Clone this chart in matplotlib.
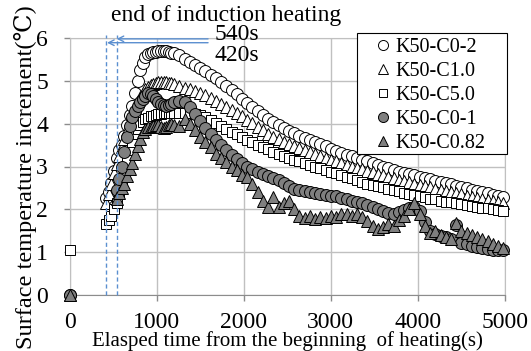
import numpy as np
import matplotlib.pyplot as plt
from matplotlib.patches import Rectangle

plt.rcParams['font.family'] = ['Liberation Serif', 'DejaVu Serif']

nan = np.nan

# sampling times (s): start point, fast sampling through the peak, then every 60 s
time_rise = [420, 450, 480, 510, 540, 570, 600, 630, 660, 690, 720, 750, 780, 810,
             840, 870, 900, 930, 960, 990, 1020, 1050, 1080, 1110, 1140, 1170, 1200]
time_fall = [1260, 1320, 1380, 1440, 1500, 1560, 1620, 1680, 1740, 1800,
             1860, 1920, 1980, 2040, 2100, 2160, 2220, 2280, 2340, 2400,
             2460, 2520, 2580, 2640, 2700, 2760, 2820, 2880, 2940, 3000,
             3060, 3120, 3180, 3240, 3300, 3360, 3420, 3480, 3540, 3600,
             3660, 3720, 3780, 3840, 3900, 3960, 4020, 4080, 4140, 4200,
             4260, 4320, 4380, 4440, 4500, 4560, 4620, 4680, 4740, 4800,
             4860, 4920, 4980]
time_s = [0] + time_rise + time_fall

k50_c0_2 = [0,
            2.27, 2.4, 2.62, 2.9, 3.2, 3.38, 3.5, 3.72, 3.97, 4.2,
            4.42, 4.72, 5.0, 5.25, 5.42, 5.55, 5.62, 5.65, 5.67, 5.68,
            5.7, 5.7, 5.7, 5.69, 5.68, 5.66, 5.64,
            5.6, 5.52, 5.45, 5.37, 5.3, 5.22, 5.14, 5.06, 4.97, 4.88,
            4.79, 4.69, 4.58, 4.48, 4.39, 4.3, 4.21, 4.12, 4.04, 3.97,
            3.9, 3.84, 3.78, 3.72, 3.67, 3.62, 3.57, 3.52, 3.47, 3.42,
            3.37, 3.32, 3.28, 3.24, 3.2, 3.16, 3.12, 3.08, 3.04, 3.0,
            2.96, 2.92, 2.88, 2.85, 2.82, 2.79, 2.76, 2.73, 2.7, 2.67,
            2.64, 2.61, 2.58, 2.55, 2.52, 2.49, 2.46, 2.43, 2.4, 2.37,
            2.34, 2.31, 2.28]

k50_c1_0 = [0,
            2.15, 2.35, 2.6, 2.85, 3.05, 3.25, 3.45, 3.65, 3.85, 4.05,
            4.22, 4.38, 4.52, 4.63, 4.72, 4.8, 4.86, 4.9, 4.93, 4.95,
            4.97, 4.98, 4.98, 4.97, 4.96, 4.94, 4.92,
            4.88, 4.84, 4.8, 4.76, 4.72, 4.66, 4.6, 4.54, 4.47, 4.4,
            4.33, 4.25, 4.17, 4.09, 4.01, 3.93, 3.85, 3.77, 3.7, 3.64,
            3.58, 3.53, 3.48, 3.43, 3.38, 3.33, 3.29, 3.25, 3.2, 3.16,
            3.12, 3.08, 3.04, 3.0, 2.96, 2.93, 2.89, 2.86, 2.82, 2.79,
            2.76, 2.72, 2.69, 2.66, 2.63, 2.6, 2.57, 2.54, 2.51, 2.48,
            2.45, 2.42, 2.4, 2.37, 2.35, 2.32, 2.29, 2.27, 2.24, 2.22,
            2.19, 2.17, 2.15]

k50_c5_0 = [1.05,
            1.65, 1.75, 1.85, 2.0, 2.15, 2.4, 2.65, 2.9, 3.15, 3.38,
            3.58, 3.75, 3.88, 3.98, 4.05, 4.1, 4.14, 4.17, 4.19, 4.21,
            4.22, 4.23, 4.24, 4.25, 4.25, 4.25, 4.25,
            4.25, 4.25, 4.24, 4.22, 4.2, 4.15, 4.08, 4.01, 3.94, 3.87,
            3.81, 3.75, 3.69, 3.63, 3.57, 3.51, 3.45, 3.4, 3.35, 3.3,
            3.25, 3.2, 3.16, 3.12, 3.08, 3.04, 3.0, 2.96, 2.92, 2.88,
            2.84, 2.8, 2.76, 2.72, 2.68, 2.64, 2.6, 2.57, 2.54, 2.51,
            2.48, 2.45, 2.42, 2.39, 2.36, 2.33, 2.3, 2.28, 2.25, 2.23,
            2.2, 2.18, 2.16, 2.14, 2.12, 2.1, 2.08, 2.06, 2.04, 2.02,
            2.0, 1.98, 1.95]

k50_c0_1 = [0,
            nan, nan, nan, nan, 2.45, 2.7, 3.0, 3.35, 3.7, 3.95,
            4.15, 4.3, 4.42, 4.5, 4.58, 4.65, 4.72, 4.7, 4.64, 4.57,
            4.5, 4.46, 4.43, 4.42, 4.44, 4.47, 4.5,
            4.52, 4.5, 4.38, 4.22, 4.06, 3.9, 3.76, 3.62, 3.5, 3.38,
            3.28, 3.18, 3.08, 3.0, 2.94, 2.88, 2.83, 2.78, 2.72, 2.69,
            2.62, 2.55, 2.48, 2.46, 2.42, 2.4, 2.38, 2.36, 2.34, 2.32,
            2.3, 2.27, 2.24, 2.2, 2.18, 2.15, 2.1, 2.05, 2.0, 1.96,
            1.92, 1.9, 1.94, 1.98, 2.02, 2.05, 1.95, 1.7, 1.5, 1.42,
            1.38, 1.35, 1.3, 1.64, 1.22, 1.18, 1.15, 1.12, 1.1, 1.08,
            1.06, 1.05, 1.05]

k50_c0_82 = [0,
             nan, nan, nan, nan, 2.25, 2.38, 2.5, 2.6, 2.78, 2.95,
             3.08, 3.3, 3.48, 3.65, 3.8, 3.88, 3.92, 3.93, 3.95, 3.97,
             3.96, 3.93, 3.9, 3.92, 3.96, 4.0, 3.98,
             3.95, 4.1, 4.0, 3.85, 3.7, 3.58, 3.45, 3.3, 3.2, 3.1,
             3.0, 2.92, 2.8, 2.76, 2.6, 2.4, 2.2, 2.05, 2.28, 2.05,
             2.15, 2.2, 2.0, 1.85, 1.8, 1.85, 1.78, 1.82, 1.8, 1.85,
             1.83, 1.9, 1.88, 1.85, 1.9, 1.82, 1.72, 1.62, 1.55, 1.58,
             1.65, 1.6, 1.75, 1.85, 2.0, 2.15, 1.9, 1.6, 1.45, 1.5,
             1.4, 1.35, 1.3, 1.68, 1.5, 1.45, 1.4, 1.35, 1.3, 1.25,
             1.2, 1.15, 1.1]

labels = ['K50-C0-2', 'K50-C1.0', 'K50-C5.0', 'K50-C0-1', 'K50-C0.82']
series = [k50_c0_2, k50_c1_0, k50_c5_0, k50_c0_1, k50_c0_82]
markers = ['o', '^', 's', 'o', '^']
fills = ['white', 'white', 'white', '#7f7f7f', '#7f7f7f']
sizes = [8.6, 8.8, 7.6, 8.6, 8.8]

heat_end = [420, 540]

fig = plt.figure(figsize=(5.31, 3.51), dpi=100)
ax = fig.add_axes([69.6 / 531, 56 / 351, (505 - 69.6) / 531, 257 / 351])

handles = []
for y, m, fc, ms, lab in zip(series, markers, fills, sizes, labels):
    h, = ax.plot(time_s, np.array(y, dtype=float), linestyle='none', marker=m,
                 ms=ms, mfc=fc, mec='black', mew=0.7, label=lab, clip_on=False, zorder=3)
    handles.append(h)

# end of induction heating markers
blue = '#5b8fd0'
for t in heat_end:
    ax.plot([t, t], [0, 6.07], color=blue, lw=1, ls=(0, (3, 2)), clip_on=False, zorder=4)
ax.annotate('', xy=(540, 5.98), xytext=(1590, 5.98), annotation_clip=False,
            arrowprops=dict(arrowstyle='->', color=blue, lw=1, shrinkA=0, shrinkB=0))
ax.annotate('', xy=(430, 5.89), xytext=(1590, 5.89), annotation_clip=False,
            arrowprops=dict(arrowstyle='->', color=blue, lw=1, shrinkA=0, shrinkB=0))

ax.set_xlim(0, 5000)
ax.set_ylim(0, 6)
ax.set_xticks([0, 1000, 2000, 3000, 4000, 5000])
ax.set_yticks([0, 1, 2, 3, 4, 5, 6])
ax.grid(color='#c0c0c0', lw=1)
ax.set_axisbelow(True)
for side in ['top', 'right', 'left']:
    ax.spines[side].set_color('#c0c0c0')
ax.spines['bottom'].set_color('#8c8c8c')
ax.tick_params(axis='both', labelsize=17, length=4, width=1, color='#8c8c8c')
ax.tick_params(axis='x', pad=8)
ax.tick_params(axis='y', pad=11.5)

fig.text(226 / 531, 1 - 15.5 / 351, 'end of induction heating', fontsize=17,
         ha='center', va='center')
fig.text(237 / 531, 1 - 35 / 351, '540s', fontsize=17, ha='center', va='center')
fig.text(237 / 531, 1 - 55.5 / 351, '420s', fontsize=17, ha='center', va='center')

fig.text(287 / 531, 5 / 351, 'Elasped time from the beginning  of heating(s)',
         fontsize=15, ha='center', va='baseline')
fig.text(25.5 / 531, 1 - 177 / 351, 'Surface temperature increment(℃)',
         fontsize=17.5, rotation=90, ha='center', va='center')

# legend box drawn by hand so it can be wider than its entries
box = Rectangle((357 / 531, 1 - 154 / 351), 150 / 531, 121 / 351,
                transform=fig.transFigure, facecolor='white',
                edgecolor='black', lw=0.8, zorder=5, clip_on=False)
ax.add_patch(box)
leg = ax.legend(handles=handles, loc='upper left',
                bbox_to_anchor=(373 / 531, 1 - 38 / 351), bbox_transform=fig.transFigure,
                fontsize=14.5, frameon=False, borderpad=0, borderaxespad=0,
                handlelength=1.0, handletextpad=0.1, labelspacing=0.24,
                markerscale=0.84)
leg.set_zorder(6)

fig.savefig('out.png', dpi=100)
